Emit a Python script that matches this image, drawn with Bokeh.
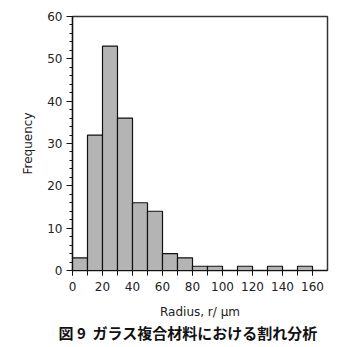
from bokeh.plotting import figure
from bokeh.models import Range1d, FixedTicker, Title
from bokeh.embed import file_html
from bokeh.resources import INLINE

# Histogram data (bin width 10 µm)
bin_left = [0, 10, 20, 30, 40, 50, 60, 70, 80, 90, 100, 110, 120, 130, 140, 150]
bin_right = [10, 20, 30, 40, 50, 60, 70, 80, 90, 100, 110, 120, 130, 140, 150, 160]
frequency = [3, 32, 53, 36, 16, 14, 4, 3, 1, 1, 0, 1, 0, 1, 0, 1]

x_tick_labels = [0, 20, 40, 60, 80, 100, 120, 140, 160]
x_minor_ticks = [0, 10, 20, 30, 40, 50, 60, 70, 80, 90, 100, 110, 120, 130, 140, 150, 160]
y_ticks = [0, 10, 20, 30, 40, 50, 60]
y_minor_ticks = [v for v in range(0, 61, 2)]

FONT = "DejaVu Sans"

p = figure(width=350, height=347, output_backend="svg", toolbar_location=None,
           x_range=Range1d(0, 170), y_range=Range1d(0, 60),
           min_border_left=72, min_border_right=23, min_border_top=16, min_border_bottom=77)

p.quad(left=bin_left, right=bin_right, bottom=0, top=frequency,
       fill_color="#b4b4b4", line_color="#111111", line_width=1.2)

p.xgrid.visible = False
p.ygrid.visible = False
p.outline_line_color = "#333333"
p.outline_line_width = 1.5

# X axis
p.xaxis.ticker = FixedTicker(ticks=x_tick_labels, minor_ticks=x_minor_ticks)
p.xaxis.major_tick_out = 5
p.xaxis.major_tick_in = 0
p.xaxis.minor_tick_out = 5
p.xaxis.minor_tick_in = 0
p.xaxis.axis_label = "Radius, r/ µm"

# Y axis
p.yaxis.ticker = FixedTicker(ticks=y_ticks, minor_ticks=y_minor_ticks)
p.yaxis.major_tick_out = 6
p.yaxis.major_tick_in = 0
p.yaxis.minor_tick_out = 3
p.yaxis.minor_tick_in = 0
p.yaxis.axis_label = "Frequency"

for ax in (p.xaxis[0], p.yaxis[0]):
    ax.axis_line_color = "#111111"
    ax.axis_line_width = 1.2
    ax.major_tick_line_color = "#111111"
    ax.minor_tick_line_color = "#111111"
    ax.major_label_text_font = FONT
    ax.major_label_text_font_size = "12px"
    ax.major_label_text_color = "#222222"
    ax.axis_label_text_font = FONT
    ax.axis_label_text_font_size = "12px"
    ax.axis_label_text_font_style = "normal"
    ax.axis_label_text_color = "#222222"

p.xaxis.major_label_standoff = 6
p.xaxis.axis_label_standoff = 11
p.yaxis.major_label_standoff = 4
p.yaxis.axis_label_standoff = 9

caption = Title(text="図\u00a09\u00a0\u00a0ガラス複合材料における割れ分析", align="left", offset=-14,
                text_font="Noto Sans CJK JP", text_font_size="15px",
                text_font_style="bold", text_color="#111111", standoff=-3)
p.add_layout(caption, "below")

open("out.html", "w").write(file_html(p, INLINE))
